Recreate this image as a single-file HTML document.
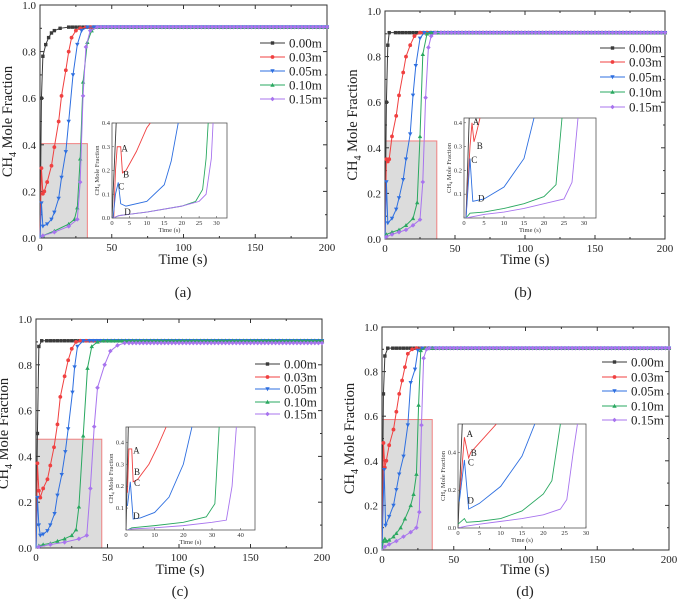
<!DOCTYPE html>
<html><head><meta charset="utf-8"><style>
html,body{margin:0;padding:0;background:#fff}
svg{display:block;font-family:"Liberation Serif",serif}
</style></head><body>
<svg id="fig" width="677" height="600" viewBox="0 0 677 600" xmlns="http://www.w3.org/2000/svg"></svg>
<script>
// ---------- data ----------
const seriesNames = ["0.00m","0.03m","0.05m","0.10m","0.15m"];
const xTicksMain = [0,50,100,150,200];
const yTicksMain = [0.0,0.2,0.4,0.6,0.8,1.0];
const panelLabels = ["(a)","(b)","(c)","(d)"];

// panel a
const a_s0 = [[0,0],[1,0.6],[2,0.78],[4,0.83],[6,0.86],[8,0.88],[10,0.89],[14,0.9],[20,0.905]];
const a_s1 = [[0,0],[1,0.3],[2,0.19],[3,0.2],[5,0.24],[8,0.31],[10,0.39],[13,0.5],[15,0.61],[18,0.72],[20,0.8],[22,0.86],[25,0.89],[28,0.9],[32,0.905]];
const a_s2 = [[0,0],[1,0.15],[2,0.05],[5,0.06],[8,0.08],[10,0.11],[13,0.17],[15,0.26],[18,0.37],[20,0.5],[23,0.7],[26,0.83],[29,0.89],[33,0.905]];
const a_s3 = [[0,0],[2,0.01],[10,0.03],[20,0.06],[24,0.08],[26,0.13],[28,0.34],[30,0.67],[33,0.84],[36,0.89],[40,0.905]];
const a_s4 = [[0,0],[2,0.01],[10,0.025],[20,0.05],[26,0.08],[28,0.24],[30,0.61],[32,0.82],[35,0.89],[40,0.905]];
const a_i0 = [[0,0],[1.2,0.4]];
const a_i1 = [[0.5,0],[1,0.2],[1.5,0.3],[2.5,0.3],[3,0.19],[4,0.2],[7,0.28],[10,0.38],[11,0.4]];
const a_i2 = [[0.3,0],[1,0.1],[1.8,0.15],[2.5,0.06],[4,0.05],[10,0.07],[15,0.14],[17,0.24],[19,0.4]];
const a_i3 = [[0.3,0],[2,0.01],[10,0.025],[20,0.05],[24,0.07],[26,0.12],[27,0.25],[27.6,0.4]];
const a_i4 = [[0.3,0],[2,0.01],[10,0.025],[20,0.05],[25,0.07],[27,0.1],[28.5,0.25],[29,0.4]];
// panel b
const b_s0 = [[0,0],[1,0.6],[2,0.85],[3,0.905]];
const b_s1 = [[0,0],[1,0.35],[2,0.34],[3,0.35],[5,0.45],[8,0.54],[10,0.63],[13,0.73],[15,0.8],[18,0.85],[21,0.89],[25,0.905]];
const b_s2 = [[0,0],[1,0.25],[2,0.07],[5,0.09],[8,0.13],[10,0.18],[13,0.26],[15,0.35],[18,0.46],[20,0.63],[22,0.76],[25,0.88],[28,0.905]];
const b_s3 = [[0,0],[1,0.02],[5,0.03],[10,0.04],[15,0.06],[20,0.09],[23,0.16],[25,0.45],[27,0.81],[30,0.9],[33,0.905]];
const b_s4 = [[0,0],[1,0.01],[5,0.02],[10,0.03],[15,0.04],[20,0.06],[25,0.085],[27,0.25],[29,0.62],[31,0.84],[33,0.89],[36,0.905]];
const b_i0 = [[0.5,0],[1.3,0.42]];
const b_i1 = [[0.5,0],[1.5,0.3],[2,0.4],[2.5,0.32],[3,0.35],[4,0.42]];
const b_i2 = [[0.5,0],[1.5,0.25],[2.2,0.07],[5,0.08],[10,0.13],[15,0.25],[17.5,0.42]];
const b_i3 = [[0.5,0],[1.5,0.02],[5,0.025],[10,0.04],[15,0.06],[20,0.09],[23,0.14],[24.5,0.42]];
const b_i4 = [[0.5,0],[2,0.005],[5,0.015],[10,0.025],[15,0.04],[20,0.06],[25,0.08],[27,0.15],[28.5,0.42]];
// panel c
const c_s0 = [[0,0],[1,0.5],[2,0.88],[4,0.905]];
const c_s1 = [[0,0],[0.5,0.17],[1,0.37],[2,0.25],[3,0.22],[5,0.26],[8,0.3],[10,0.36],[12.6,0.44],[15,0.54],[17,0.66],[20,0.75],[22.5,0.82],[25,0.87],[28,0.9],[31,0.905]];
const c_s2 = [[0,0],[0.5,0.11],[1,0.22],[2,0.1],[3,0.055],[5,0.06],[8,0.075],[10,0.1],[13,0.15],[15,0.23],[18,0.32],[20.5,0.42],[22.5,0.52],[25.5,0.68],[27,0.79],[29,0.88],[33,0.905]];
const c_s3 = [[0,0],[2,0.01],[5,0.015],[10,0.02],[15,0.03],[20,0.04],[25,0.055],[28,0.08],[30,0.18],[33,0.49],[36,0.785],[39,0.88],[43,0.9],[47,0.905]];
const c_s4 = [[0,0],[2,0.005],[10,0.015],[20,0.025],[30,0.04],[35.5,0.055],[38,0.26],[40.7,0.53],[43,0.7],[48,0.8],[52,0.86],[57,0.885],[62,0.895]];
const c_i0 = [[0,0],[0.8,0.47]];
const c_i1 = [[0.5,0.17],[1,0.37],[2,0.37],[2.5,0.22],[4,0.23],[8,0.3],[11,0.38],[14,0.47]];
const c_i2 = [[0.5,0.11],[1.5,0.22],[2.5,0.05],[5,0.055],[10,0.08],[15,0.15],[20,0.3],[23,0.47]];
const c_i3 = [[0.5,0],[2,0.01],[10,0.02],[20,0.035],[28,0.06],[31,0.12],[32.5,0.47]];
const c_i4 = [[0.5,0],[2,0.005],[10,0.01],[20,0.02],[30,0.035],[35,0.045],[37,0.2],[38.5,0.47]];
// panel d
const d_s0 = [[0,0],[1,0.7],[2,0.87],[4,0.905]];
const d_s1 = [[0,0],[0.5,0.2],[1,0.48],[2,0.37],[3,0.4],[5,0.47],[8,0.54],[10,0.62],[12,0.7],[14,0.76],[16,0.82],[18,0.88],[21,0.9],[24,0.905]];
const d_s2 = [[0,0],[0.5,0.14],[1.5,0.36],[2.5,0.11],[5,0.15],[8,0.2],[10,0.27],[12,0.34],[15,0.42],[18,0.56],[20,0.75],[23,0.81],[25,0.895],[28,0.905]];
const d_s3 = [[0,0],[1,0.04],[2,0.05],[3,0.04],[5,0.045],[8,0.06],[10,0.075],[13,0.1],[16,0.14],[20,0.2],[22,0.25],[24,0.34],[25.5,0.65],[27,0.895],[30,0.905]];
const d_s4 = [[0,0],[2,0.015],[5,0.025],[10,0.04],[15,0.06],[20,0.08],[24,0.1],[26,0.17],[27.5,0.56],[29,0.86],[31,0.9],[33,0.905]];
const d_i0 = [[0,0],[1,0.55]];
const d_i1 = [[0.5,0.2],[1.5,0.48],[2.5,0.37],[3,0.4],[5,0.45],[9,0.55]];
const d_i2 = [[0.3,0.14],[1.5,0.36],[2.5,0.1],[5,0.13],[10,0.22],[15,0.38],[18,0.55]];
const d_i3 = [[0,0.02],[1.5,0.05],[2,0.03],[5,0.035],[10,0.05],[15,0.09],[20,0.18],[22,0.25],[24,0.55]];
const d_i4 = [[0,0],[2,0.01],[5,0.02],[10,0.035],[15,0.05],[20,0.07],[24,0.1],[25.5,0.15],[27,0.4],[28,0.55]];

const insetXTicks = [[0,5,10,15,20,25,30],[0,5,10,15,20,25,30],[0,10,20,30,40],[0,5,10,15,20,25,30]];
const insetYTicks = [[0,0.1,0.2,0.3,0.4],[0.1,0.2,0.3,0.4],[0.1,0.2,0.3,0.4],[0,0.2,0.4]];
const insetXMax = [33,33,45,30];
const insetYMax = [0.4,0.42,0.47,0.55];
const shadeX = [33,37,46,35];
const shadeY = [0.405,0.43,0.475,0.585];
const annotLetters = ["A","B","C","D"];
const annotA = [[[2.7,0.28],[3.2,0.17],[1.8,0.12],[3.5,0.012]],[[2.2,0.39],[3.2,0.29],[1.8,0.23],[3.5,0.07]],[[2.5,0.35],[2.8,0.25],[2.8,0.2],[2.5,0.05]],[[2,0.48],[3,0.38],[2.3,0.33],[2.2,0.13]]];

// ---------- layout ----------
const layouts = [
 {L:40,R:327,T:5,B:238, inset:{L:112,R:227,T:123,B:218}, leg:{x:260,ys:[43,57,71,85,99]}, tx:183,ty:264, px:183,py:297},
 {L:385,R:665,T:11,B:239, inset:{L:464,R:596,T:118,B:218}, leg:{x:600,ys:[48,62,77,92,107]}, tx:525,ty:264, px:523,py:297},
 {L:36,R:322,T:319,B:548, inset:{L:126,R:255,T:427,B:530}, leg:{x:255,ys:[364,377,389,402,414]}, tx:180,ty:574, px:180,py:596},
 {L:382,R:669,T:327,B:550, inset:{L:458,R:586,T:424,B:528}, leg:{x:602,ys:[362,377,391,406,420]}, tx:525,ty:574, px:525,py:596}
];
const colors = ["#3a3a3a","#f04040","#2e6fe0","#2aa860","#a874ee"];
const allMain = [[a_s0,a_s1,a_s2,a_s3,a_s4],[b_s0,b_s1,b_s2,b_s3,b_s4],[c_s0,c_s1,c_s2,c_s3,c_s4],[d_s0,d_s1,d_s2,d_s3,d_s4]];
const allInset = [[a_i0,a_i1,a_i2,a_i3,a_i4],[b_i0,b_i1,b_i2,b_i3,b_i4],[c_i0,c_i1,c_i2,c_i3,c_i4],[d_i0,d_i1,d_i2,d_i3,d_i4]];

const NS="http://www.w3.org/2000/svg";
const svg=document.getElementById('fig');
function el(tag,attrs,parent){const e=document.createElementNS(NS,tag);for(const k in attrs)e.setAttribute(k,attrs[k]);(parent||svg).appendChild(e);return e;}
function txt(s,attrs,parent){const e=el('text',attrs,parent);e.textContent=s;return e;}
function marker(kind,x,y,c,g){
  const r=1.7;let m;
  if(kind===0) m=el('rect',{x:x-r,y:y-r,width:2*r,height:2*r,fill:c},g);
  else if(kind===1) m=el('circle',{cx:x,cy:y,r:r+0.2,fill:c},g);
  else if(kind===2) m=el('polygon',{points:`${x-r-0.5},${y-r} ${x+r+0.5},${y-r} ${x},${y+r+0.5}`,fill:c},g);
  else if(kind===3) m=el('polygon',{points:`${x-r-0.5},${y+r} ${x+r+0.5},${y+r} ${x},${y-r-0.5}`,fill:c},g);
  else m=el('polygon',{points:`${x},${y-r-0.6} ${x+r+0.6},${y} ${x},${y+r+0.6} ${x-r-0.6},${y}`,fill:c},g);
  return m;
}

layouts.forEach((P,pi)=>{
  const g=el('g',{});
  
  
  const xs=v=>P.L+(v/200)*(P.R-P.L);
  const ys=v=>P.B-(v/1.0)*(P.B-P.T);
  const sh=el('rect',{x:xs(0),y:ys(shadeY[pi]),width:xs(shadeX[pi])-xs(0),height:ys(0)-ys(shadeY[pi]),fill:"#dcdcdc",stroke:"#f08080","stroke-width":1},g);
  
  
  const fr=el('rect',{x:P.L,y:P.T,width:P.R-P.L,height:P.B-P.T,fill:"none",stroke:"#333","stroke-width":1},g);
  
  
  for(let v=0;v<=200;v+=25){const X=xs(v);const L=v%50===0?4:2;
    el('line',{x1:X,y1:P.B,x2:X,y2:P.B-L,stroke:"#333"},g);el('line',{x1:X,y1:P.T,x2:X,y2:P.T+L,stroke:"#333"},g);}
  for(let k=0;k<=10;k++){const v=k/10;const Y=ys(v);const L=k%2===0?4:2;
    el('line',{x1:P.L,y1:Y,x2:P.L+L,y2:Y,stroke:"#333"},g);el('line',{x1:P.R,y1:Y,x2:P.R-L,y2:Y,stroke:"#333"},g);}
  xTicksMain.forEach(v=>{const t=txt(String(v),{x:xs(v),y:P.B+13,"font-size":11,"text-anchor":"middle",fill:"#222"},g);
    });
  yTicksMain.forEach(v=>{const t=txt(v.toFixed(1),{x:P.L-4,y:ys(v)+4,"font-size":11,"text-anchor":"end",fill:"#222"},g);
    });
  const xt=txt("Time (s)",{x:P.tx,y:P.ty,"font-size":14.5,"text-anchor":"middle",fill:"#222"},g);
  
  const yc=(P.T+P.B)/2, yx=P.L-28;
  const yt=el('text',{x:yx,y:yc,"font-size":14.5,"text-anchor":"middle",fill:"#222",transform:`rotate(-90 ${yx} ${yc})`},g);
  
  yt.innerHTML='CH<tspan font-size="10" dy="4">4</tspan><tspan dy="-4"> Mole Fraction</tspan>';
  const pl=txt(panelLabels[pi],{x:P.px,y:P.py,"font-size":15,"text-anchor":"middle",fill:"#222"},g);
  
  allMain[pi].forEach((d,si)=>{
    const sg=el('g',{},g);
    
    
    const last=d[d.length-1];
    let pts=d.map(p=>xs(p[0])+','+ys(p[1])).join(' ')+' '+xs(200)+','+ys(last[1]);
    el('polyline',{points:pts,fill:"none",stroke:colors[si],"stroke-width":1},sg);
    d.forEach(p=>{if(p[0]>0.6)marker(si,xs(p[0]),ys(p[1]),colors[si],sg);});
    for(let t=Math.ceil(last[0]/2.5)*2.5+2.5;t<=200;t+=2.5) marker(si,xs(t),ys(last[1]),colors[si],sg);
  });
  seriesNames.forEach((n,si)=>{
    const lg=el('g',{},g);
    
    
    const y=P.leg.ys[si];
    el('line',{x1:P.leg.x,y1:y,x2:P.leg.x+25,y2:y,stroke:colors[si],"stroke-width":1},lg);
    marker(si,P.leg.x+12.5,y,colors[si],lg);
    txt(n,{x:P.leg.x+29,y:y+4.5,"font-size":13,fill:"#222"},lg);
  });
  const I=P.inset;
  const ig=el('g',{},g);
  
  
  const ix=v=>I.L+(v/insetXMax[pi])*(I.R-I.L);
  const iy=v=>I.B-(v/insetYMax[pi])*(I.B-I.T);
  el('rect',{x:I.L,y:I.T,width:I.R-I.L,height:I.B-I.T,fill:"#fff",stroke:"#555","stroke-width":0.8},ig);
  const cid='clip'+pi;
  const cp=el('clipPath',{id:cid},ig);el('rect',{x:I.L,y:I.T,width:I.R-I.L,height:I.B-I.T},cp);
  const cg=el('g',{"clip-path":`url(#${cid})`},ig);
  allInset[pi].forEach((d,si)=>{
    const l=el('polyline',{points:d.map(p=>ix(p[0])+','+iy(p[1])).join(' '),fill:"none",stroke:colors[si],"stroke-width":0.9},cg);
    
    
  });
  insetXTicks[pi].forEach(v=>{el('line',{x1:ix(v),y1:I.B,x2:ix(v),y2:I.B-2,stroke:"#555","stroke-width":0.6},ig);
    txt(String(v),{x:ix(v),y:I.B+7,"font-size":6.5,"text-anchor":"middle",fill:"#333"},ig);});
  insetYTicks[pi].forEach(v=>{el('line',{x1:I.L,y1:iy(v),x2:I.L+2,y2:iy(v),stroke:"#555","stroke-width":0.6},ig);
    txt(v===0?"0.0":String(v),{x:I.L-2,y:iy(v)+2,"font-size":6.5,"text-anchor":"end",fill:"#333"},ig);});
  txt("Time (s)",{x:(I.L+I.R)/2,y:I.B+14,"font-size":6.5,"text-anchor":"middle",fill:"#333"},ig);
  const icy=(I.T+I.B)/2, icx=I.L-13;
  const it=el('text',{x:icx,y:icy,"font-size":6.5,"text-anchor":"middle",fill:"#333",transform:`rotate(-90 ${icx} ${icy})`},ig);
  it.innerHTML='CH<tspan font-size="4.5" dy="1.5">4</tspan><tspan dy="-1.5"> Mole Fraction</tspan>';
  annotA[pi].forEach((p,k)=>{const t=txt(annotLetters[k],{x:ix(p[0]),y:iy(p[1]),"font-size":9,fill:"#222"},ig);
    });
});
</script>
</body></html>
